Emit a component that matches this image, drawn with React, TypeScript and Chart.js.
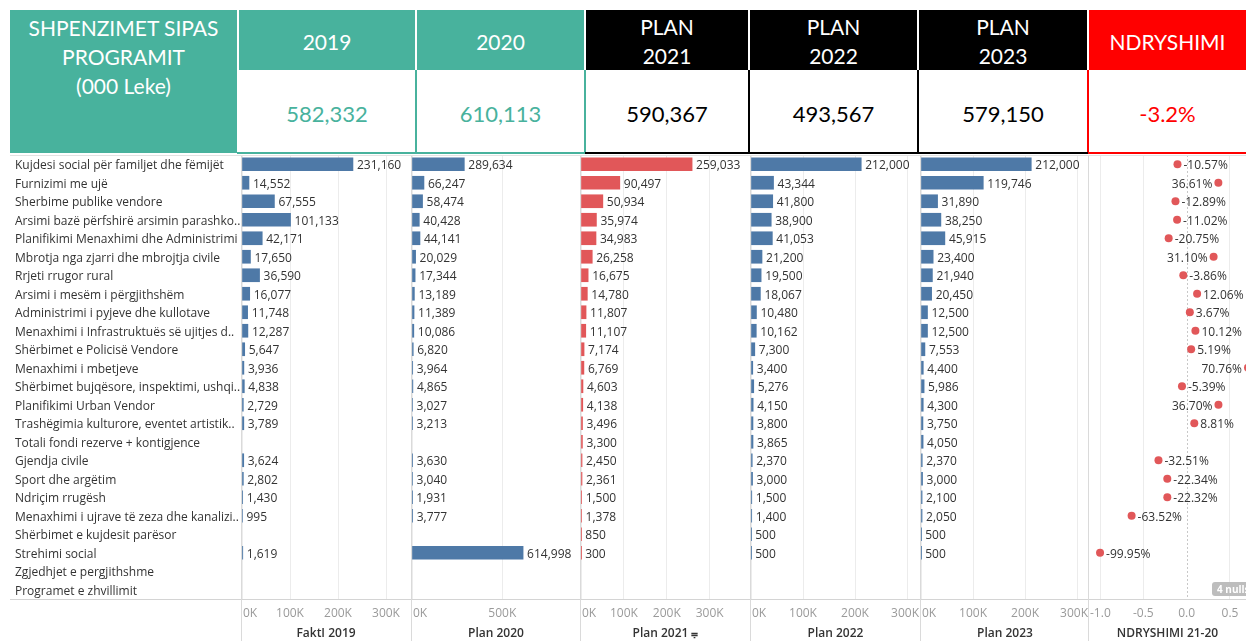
import React, { useEffect, useRef } from 'react';
import { Chart, registerables } from 'chart.js';

Chart.register(...registerables);

// ---------------- DATA ----------------
const programs = [
  'Kujdesi social për familjet dhe fëmijët',
  'Furnizimi me ujë',
  'Sherbime publike vendore',
  'Arsimi bazë përfshirë arsimin parashko..',
  'Planifikimi Menaxhimi dhe Administrimi',
  'Mbrotja nga zjarri dhe mbrojtja civile',
  'Rrjeti rrugor rural',
  'Arsimi i mesëm i përgjithshëm',
  'Administrimi i pyjeve dhe kullotave',
  'Menaxhimi i Infrastruktuës së ujitjes d..',
  'Shërbimet e Policisë Vendore',
  'Menaxhimi i mbetjeve',
  'Shërbimet bujqësore, inspektimi, ushqi..',
  'Planifikimi Urban Vendor',
  'Trashëgimia kulturore, eventet artistik..',
  'Totali fondi rezerve + kontigjence',
  'Gjendja civile',
  'Sport dhe argëtim',
  'Ndriçim rrugësh',
  'Menaxhimi i ujrave të zeza dhe kanalizi..',
  'Shërbimet e kujdesit parësor',
  'Strehimi social',
  'Zgjedhjet e pergjithshme',
  'Programet e zhvillimit',
];

const fakti2019 = [231160, 14552, 67555, 101133, 42171, 17650, 36590, 16077, 11748, 12287, 5647, 3936, 4838, 2729, 3789, null, 3624, 2802, 1430, 995, null, 1619, null, null];
const plan2020 = [289634, 66247, 58474, 40428, 44141, 20029, 17344, 13189, 11389, 10086, 6820, 3964, 4865, 3027, 3213, null, 3630, 3040, 1931, 3777, null, 614998, null, null];
const plan2021 = [259033, 90497, 50934, 35974, 34983, 26258, 16675, 14780, 11807, 11107, 7174, 6769, 4603, 4138, 3496, 3300, 2450, 2361, 1500, 1378, 850, 300, null, null];
const plan2022 = [212000, 43344, 41800, 38900, 41053, 21200, 19500, 18067, 10480, 10162, 7300, 3400, 5276, 4150, 3800, 3865, 2370, 3000, 1500, 1400, 500, 500, null, null];
const plan2023 = [212000, 119746, 31890, 38250, 45915, 23400, 21940, 20450, 12500, 12500, 7553, 4400, 5986, 4300, 3750, 4050, 2370, 3000, 2100, 2050, 500, 500, null, null];
const ndryshimi = [-0.1057, 0.3661, -0.1289, -0.1102, -0.2075, 0.3110, -0.0386, 0.1206, 0.0367, 0.1012, 0.0519, 0.7076, -0.0539, 0.3670, 0.0881, null, -0.3251, -0.2234, -0.2232, -0.6352, null, -0.9995, null, null];

const ticksK300 = [0, 100000, 200000, 300000];
const tickLabelsK300 = ['0K', '100K', '200K', '300K'];
const ticksK500 = [0, 500000];
const tickLabelsK500 = ['0K', '500K'];
const ticksChange = [-1, -0.5, 0, 0.5];
const tickLabelsChange = ['-1.0', '-0.5', '0.0', '0.5'];

const headerTitles = ['2019', '2020', 'PLAN\n2021', 'PLAN\n2022', 'PLAN\n2023', 'NDRYSHIMI'];
const headerTotals = ['582,332', '610,113', '590,367', '493,567', '579,150', '-3.2%'];
const axisTitles = ['FaktI 2019', 'Plan 2020', 'Plan 2021 \u2A66', 'Plan 2022', 'Plan 2023', 'NDRYSHIMI 21-20'];
const nullsNote = '4 nulls';

// ---------------- STYLE ----------------
const BLUE = '#4E79A7';
const RED = '#E15759';
const TEAL = '#48B29D';
const FONT = '"Open Sans", "Noto Sans", sans-serif';
const HFONT = 'Lato, "Open Sans", sans-serif';
const TOP = 155;
const H = 486;
const AXIS_H = 42;
const TEXT_DY = 1.5;

const fmt = (v: number) => v.toLocaleString('en-US');

const barLabelPlugin = {
  id: 'barLabels',
  afterDatasetsDraw(chart: any) {
    const ctx = chart.ctx;
    const meta = chart.getDatasetMeta(0);
    const data = chart.data.datasets[0].data;
    ctx.save();
    ctx.font = `12px ${FONT}`;
    ctx.fillStyle = '#333';
    ctx.textBaseline = 'middle';
    ctx.textAlign = 'left';
    meta.data.forEach((el: any, i: number) => {
      const v = data[i];
      if (v == null) return;
      ctx.fillText(fmt(v), el.x + 4, el.y + TEXT_DY);
    });
    ctx.restore();
  },
};

const dotLabelPlugin = {
  id: 'dotLabels',
  beforeDatasetsDraw(chart: any) {
    const ctx = chart.ctx;
    const s = chart.scales.x;
    const x = Math.round(s.getPixelForValue(0)) + 0.5;
    ctx.save();
    ctx.strokeStyle = '#c8c8c8';
    ctx.setLineDash([2, 2]);
    ctx.lineWidth = 1;
    ctx.beginPath();
    ctx.moveTo(x, chart.chartArea.top);
    ctx.lineTo(x, chart.chartArea.bottom);
    ctx.stroke();
    ctx.restore();
  },
  afterDatasetsDraw(chart: any) {
    const ctx = chart.ctx;
    const meta = chart.getDatasetMeta(0);
    const data = chart.data.datasets[0].data;
    ctx.save();
    ctx.font = `12px ${FONT}`;
    ctx.fillStyle = '#333';
    ctx.textBaseline = 'middle';
    ctx.textAlign = 'left';
    meta.data.forEach((el: any, i: number) => {
      const v = data[i];
      if (v == null) return;
      const t = (v * 100).toFixed(2) + '%';
      const w = ctx.measureText(t).width;
      let tx = el.x + 6;
      if (tx + w > chart.width + 2) tx = el.x - 6 - w;
      ctx.fillText(t, tx, el.y + TEXT_DY);
    });
    ctx.restore();
  },
};

const tickLabelPlugin = {
  id: 'tickLabels',
  afterDraw(chart: any, _args: any, opts: any) {
    const ctx = chart.ctx;
    const s = chart.scales.x;
    const labels: string[] = opts.labels || [];
    ctx.save();
    ctx.font = `12px ${FONT}`;
    ctx.fillStyle = '#9a9a9a';
    ctx.textBaseline = 'middle';
    ctx.textAlign = 'left';
    const y = chart.chartArea.bottom + 15;
    s.ticks.forEach((t: any, i: number) => {
      const label = labels[i];
      if (label == null) return;
      const w = ctx.measureText(label).width;
      let x = s.getPixelForValue(t.value) - w / 2;
      x = Math.max(chart.chartArea.left + 1, Math.min(chart.width - w - 1, x));
      ctx.fillText(label, x, y);
    });
    ctx.restore();
  },
};

type PanelCfg = {
  title: string;
  data: (number | null)[];
  min: number;
  max: number;
  ticks: number[];
  tickLabels: string[];
  left: number;
  width: number;
  color: string;
  withLabels?: boolean;
  dots?: boolean;
};

const panels: PanelCfg[] = [
  { title: axisTitles[0], data: fakti2019, min: 0, max: 350000, ticks: ticksK300, tickLabels: tickLabelsK300, left: 0, width: 410, color: BLUE, withLabels: true },
  { title: axisTitles[1], data: plan2020, min: 0, max: 930000, ticks: ticksK500, tickLabels: tickLabelsK500, left: 412, width: 168, color: BLUE },
  { title: axisTitles[2], data: plan2021, min: 0, max: 394000, ticks: ticksK300, tickLabels: tickLabelsK300, left: 581, width: 169, color: RED },
  { title: axisTitles[3], data: plan2022, min: 0, max: 325000, ticks: ticksK300, tickLabels: tickLabelsK300, left: 751, width: 169, color: BLUE },
  { title: axisTitles[4], data: plan2023, min: 0, max: 323000, ticks: ticksK300, tickLabels: tickLabelsK300, left: 921, width: 168, color: BLUE },
  { title: axisTitles[5], data: ndryshimi, min: -1.127, max: 0.685, ticks: ticksChange, tickLabels: tickLabelsChange, left: 1089, width: 157, color: RED, dots: true },
];

function buildChart(canvas: HTMLCanvasElement, p: PanelCfg) {
  const xScale: any = {
    type: 'linear',
    position: 'bottom',
    min: p.min,
    max: p.max,
    afterBuildTicks: (s: any) => {
      s.ticks = p.ticks.map((v) => ({ value: v }));
    },
    afterFit: (s: any) => {
      s.height = AXIS_H;
      s.paddingLeft = 0;
      s.paddingRight = 0;
    },
    ticks: { display: false },
    grid: {
      color: (c: any) => (p.dots && c.tick && c.tick.value === 0 ? 'rgba(0,0,0,0)' : '#ececec'),
      drawTicks: false,
      lineWidth: 1,
    },
    border: { display: false },
    title: {
      display: true,
      text: p.title,
      color: '#333',
      font: { family: FONT, size: 12, weight: '600' },
      padding: { top: 0, bottom: 0 },
    },
  };
  const yScale: any = p.withLabels
    ? {
        type: 'category',
        display: true,
        offset: true,
        grid: { display: false, drawTicks: false },
        border: { display: false },
        ticks: {
          autoSkip: false,
          crossAlign: 'far',
          padding: 0,
          labelOffset: TEXT_DY,
          color: '#333',
          font: { family: FONT, size: 12 },
        },
        afterFit: (s: any) => {
          s.width = 227;
          s.paddingTop = 0;
          s.paddingBottom = 0;
        },
      }
    : { type: 'category', display: false, offset: true };

  const dataset: any = p.dots
    ? {
        data: p.data,
        showLine: false,
        pointRadius: 4,
        pointHoverRadius: 4,
        pointBackgroundColor: RED,
        pointBorderColor: RED,
        pointBorderWidth: 0,
      }
    : {
        data: p.data,
        backgroundColor: p.color,
        barThickness: 13,
      };

  return new Chart(canvas, {
    type: p.dots ? 'line' : 'bar',
    data: { labels: programs, datasets: [dataset] },
    options: {
      indexAxis: 'y',
      responsive: false,
      maintainAspectRatio: false,
      animation: false,
      devicePixelRatio: 1,
      events: [],
      layout: { padding: { left: p.withLabels ? 15 : 0, right: 0, top: 0, bottom: 0 }, autoPadding: false },
      plugins: {
        legend: { display: false },
        tooltip: { enabled: false },
        tickLabels: { labels: p.tickLabels },
      } as any,
      scales: { x: xScale, y: yScale },
    } as any,
    plugins: [p.dots ? dotLabelPlugin : barLabelPlugin, tickLabelPlugin],
  });
}

export default function App() {
  const refs = useRef<(HTMLCanvasElement | null)[]>([]);

  useEffect(() => {
    const charts = panels.map((p, i) => buildChart(refs.current[i] as HTMLCanvasElement, p));
    return () => charts.forEach((c) => c.destroy());
  }, []);

  const headCells = [
    { left: 239, width: 176, bg: TEAL, valueColor: TEAL },
    { left: 417, width: 167, bg: TEAL, valueColor: TEAL },
    { left: 586, width: 162, bg: '#000', valueColor: '#000' },
    { left: 750, width: 167, bg: '#000', valueColor: '#000' },
    { left: 919, width: 168, bg: '#000', valueColor: '#000' },
    { left: 1089, width: 157, bg: '#FF0000', valueColor: '#FF0000' },
  ];

  const abs = (s: any) => ({ position: 'absolute' as const, ...s });

  return (
    <div style={{ position: 'fixed', left: 0, top: 0, width: 1246, height: 641, background: '#fff', overflow: 'hidden' }}>
      {/* header title block */}
      <div
        style={abs({
          left: 10, top: 10, width: 227, height: 143, background: TEAL, color: '#fff',
          fontFamily: HFONT, fontSize: 21, lineHeight: '29px', textAlign: 'center', paddingTop: 3, boxSizing: 'border-box',
        })}
      >
        SHPENZIMET SIPAS<br />PROGRAMIT<br />(000 Leke)
      </div>
      {headCells.map((c, i) => (
        <React.Fragment key={i}>
          <div
            style={abs({
              left: c.left, top: 10, width: c.width, height: 60, background: c.bg, color: '#fff',
              fontFamily: HFONT, fontSize: 21, lineHeight: '29px', textAlign: 'center',
              display: 'flex', alignItems: 'center', justifyContent: 'center', whiteSpace: 'pre-line',
              paddingTop: 2, boxSizing: 'border-box',
            })}
          >
            {headerTitles[i]}
          </div>
          <div
            style={abs({
              left: c.left, top: 72, width: c.width, height: 80, color: c.valueColor,
              fontFamily: HFONT, fontSize: 22, display: 'flex', alignItems: 'center', justifyContent: 'center',
              paddingTop: 2, boxSizing: 'border-box',
            })}
          >
            {headerTotals[i]}
          </div>
        </React.Fragment>
      ))}
      {/* header value-row borders */}
      <div style={abs({ left: 415, top: 70, width: 2, height: 84, background: TEAL })} />
      <div style={abs({ left: 584, top: 70, width: 2, height: 84, background: TEAL })} />
      <div style={abs({ left: 748, top: 70, width: 2, height: 84, background: '#000' })} />
      <div style={abs({ left: 917, top: 70, width: 2, height: 84, background: '#000' })} />
      <div style={abs({ left: 1087, top: 70, width: 2, height: 84, background: '#FF0000' })} />
      <div style={abs({ left: 237, top: 152, width: 348, height: 2, background: TEAL })} />
      <div style={abs({ left: 585, top: 152, width: 503, height: 2, background: '#000' })} />
      <div style={abs({ left: 1088, top: 152, width: 158, height: 2, background: '#FF0000' })} />

      {/* chart canvases */}
      {panels.map((p, i) => (
        <canvas
          key={i}
          ref={(el) => { refs.current[i] = el; }}
          width={p.width}
          height={H}
          style={abs({ left: p.left, top: TOP, width: p.width, height: H })}
        />
      ))}

      {/* frame lines */}
      <div style={abs({ left: 10, top: 155, width: 1236, height: 1, background: '#e2e2e2' })} />
      <div style={abs({ left: 10, top: 599, width: 1236, height: 1, background: '#d4d4d4' })} />
      {[241, 411, 580, 750, 920, 1088].map((x) => (
        <div key={x} style={abs({ left: x, top: 156, width: 1, height: 485, background: '#dadada' })} />
      ))}

      {/* nulls badge */}
      <div
        style={abs({
          left: 1212, top: 582, width: 44, height: 14, background: '#bdbdbd', borderRadius: 3,
          color: '#fff', fontFamily: FONT, fontSize: 10, fontWeight: 700, lineHeight: '14px', paddingLeft: 5, boxSizing: 'border-box',
        })}
      >
        {nullsNote}
      </div>
    </div>
  );
}
